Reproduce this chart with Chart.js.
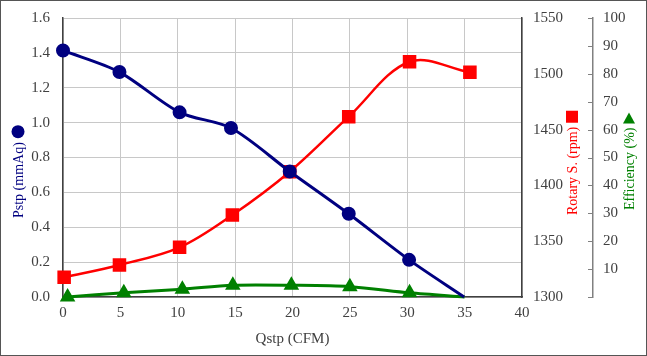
<!DOCTYPE html>
<html>
<head>
<meta charset="utf-8">
<script src="https://cdn.jsdelivr.net/npm/chart.js@4.4.1/dist/chart.umd.min.js"></script>
<style>
html,body{margin:0;padding:0;background:#fff;}
#wrap{width:647px;height:356px;position:relative;}
</style>
</head>
<body>
<div id="wrap"><canvas id="c" width="647" height="356"></canvas></div>
<script>
// ---- data ----
const xPstp  = [0, 4.92, 10.16, 14.64, 19.76, 24.9, 30.16, 34.96];
const pstp   = [1.414, 1.29, 1.059, 0.969, 0.72, 0.477, 0.213, 0];
const xSpeed = [0.1, 4.92, 10.16, 14.76, 19.76, 24.9, 30.2, 35.46];
const speed  = [1317.6, 1328.7, 1344.5, 1373.5, 1412.3, 1461.6, 1510.8, 1501.3];
const xEff   = [0.4, 5.3, 10.4, 14.8, 19.9, 25.0, 30.2, 35.0];
const eff    = [0, 1.5, 2.8, 4.2, 4.2, 3.7, 1.5, 0];
const xTitle = 'Qstp (CFM)';
const yTitles = ['Pstp (mmAq)', 'Rotary S. (rpm)', 'Efficiency (%)'];

const pts = (xs, ys) => xs.map((x, i) => ({x: x, y: ys[i]}));
const FONT = 'Liberation Serif';
const TICKC = '#404040';

const framePlugin = {
  id: 'frame',
  afterDraw(chart) {
    const ctx = chart.ctx;
    ctx.save();
    ctx.strokeStyle = '#555';
    ctx.lineWidth = 1;
    ctx.strokeRect(0.5, 0.5, chart.width - 1, chart.height - 1);
    const e = chart.scales.yEff;
    ctx.strokeStyle = '#808080';
    for (let v = 0; v <= 100; v += 10) {
      const y = Math.round(e.getPixelForValue(v)) + 0.5;
      ctx.beginPath(); ctx.moveTo(e.left - 5, y); ctx.lineTo(e.left, y); ctx.stroke();
    }
    const drawTitle = (text, cx, bottomY, color, sym) => {
      ctx.save();
      ctx.translate(cx, bottomY);
      ctx.rotate(-Math.PI / 2);
      ctx.font = '14px "' + FONT + '"';
      ctx.fillStyle = color;
      ctx.textAlign = 'left';
      ctx.textBaseline = 'middle';
      ctx.fillText(text, 0, 1);
      const w = ctx.measureText(text).width;
      const s0 = w + 4;
      ctx.beginPath();
      if (sym === 'circle') {
        ctx.arc(s0 + 6.5, 0, 6.5, 0, Math.PI * 2);
      } else if (sym === 'square') {
        ctx.rect(s0, -6, 12, 12);
      } else {
        ctx.moveTo(s0, -6);
        ctx.lineTo(s0, 6);
        ctx.lineTo(s0 + 11, 0);
        ctx.closePath();
      }
      ctx.fill();
      ctx.restore();
    };
    drawTitle(yTitles[0], 18, 218, '#000080', 'circle');
    drawTitle(yTitles[1], 572, 215, '#ff0000', 'square');
    drawTitle(yTitles[2], 629, 210, '#008000', 'triangle');
    ctx.restore();
  }
};

const fitV = w => s => { s.width = w; s.paddingTop = 0; s.paddingBottom = 0; };

new Chart(document.getElementById('c'), {
  type: 'line',
  data: {
    datasets: [
      {
        label: yTitles[0], data: pts(xPstp, pstp), yAxisID: 'y',
        borderColor: '#000080', backgroundColor: '#000080', borderWidth: 3,
        pointStyle: 'circle', pointRadius: [5.5,5.5,5.5,5.5,5.5,5.5,5.5,0], pointHoverRadius: 5.5,
        tension: 0.3, clip: false, order: 1
      },
      {
        label: yTitles[1], data: pts(xSpeed, speed), yAxisID: 'ySpeed',
        borderColor: '#ff0000', backgroundColor: '#ff0000', borderWidth: 2.5,
        pointStyle: 'rect', pointRadius: 7.8, pointHoverRadius: 7.8,
        tension: 0.35, clip: false, order: 2
      },
      {
        label: yTitles[2], data: pts(xEff, eff), yAxisID: 'yEff',
        borderColor: '#008000', backgroundColor: '#008000', borderWidth: 3,
        pointStyle: 'triangle', pointRadius: [6,6,6,6,6,6,6,0], pointHoverRadius: 6,
        tension: 0.3, clip: false, order: 3
      }
    ]
  },
  options: {
    responsive: false,
    animation: false,
    layout: {autoPadding: false, padding: {top: 18, left: 0, right: 0, bottom: 0}},
    plugins: {legend: {display: false}, tooltip: {enabled: false}},
    scales: {
      x: {
        type: 'linear', min: 0, max: 40,
        ticks: {stepSize: 5, padding: 7, color: TICKC, font: {family: FONT, size: 15}},
        grid: {color: '#c8c8c8', drawTicks: false},
        border: {color: '#404040', width: 1.5},
        title: {display: true, text: xTitle, color: TICKC, font: {family: FONT, size: 15}, padding: {top: 6, bottom: 8}},
        afterFit(s) { s.height = 59; s.paddingLeft = 0; s.paddingRight = 0; }
      },
      y: {
        position: 'left', min: 0, max: 1.6,
        ticks: {stepSize: 0.2, padding: 13, color: TICKC, font: {family: FONT, size: 15},
          callback: v => Number(v).toFixed(1)},
        grid: {color: '#c8c8c8', drawTicks: false},
        border: {color: '#404040', width: 1.5},
        afterFit: fitV(63)
      },
      ySpeed: {
        position: 'right', min: 1300, max: 1550, weight: 0,
        ticks: {stepSize: 50, padding: 11, color: TICKC, font: {family: FONT, size: 15},
          callback: v => String(v)},
        grid: {drawOnChartArea: false, drawTicks: false},
        border: {color: '#404040', width: 1.5},
        afterFit: fitV(71)
      },
      yEff: {
        position: 'right', min: 0, max: 100, weight: 1,
        ticks: {stepSize: 10, padding: 10, color: TICKC, font: {family: FONT, size: 15},
          callback: v => (v === 0 ? '' : String(v))},
        grid: {drawOnChartArea: false, drawTicks: false},
        border: {color: '#808080', width: 1.5},
        afterFit: fitV(54)
      }
    }
  },
  plugins: [framePlugin]
});
</script>
</body>
</html>
